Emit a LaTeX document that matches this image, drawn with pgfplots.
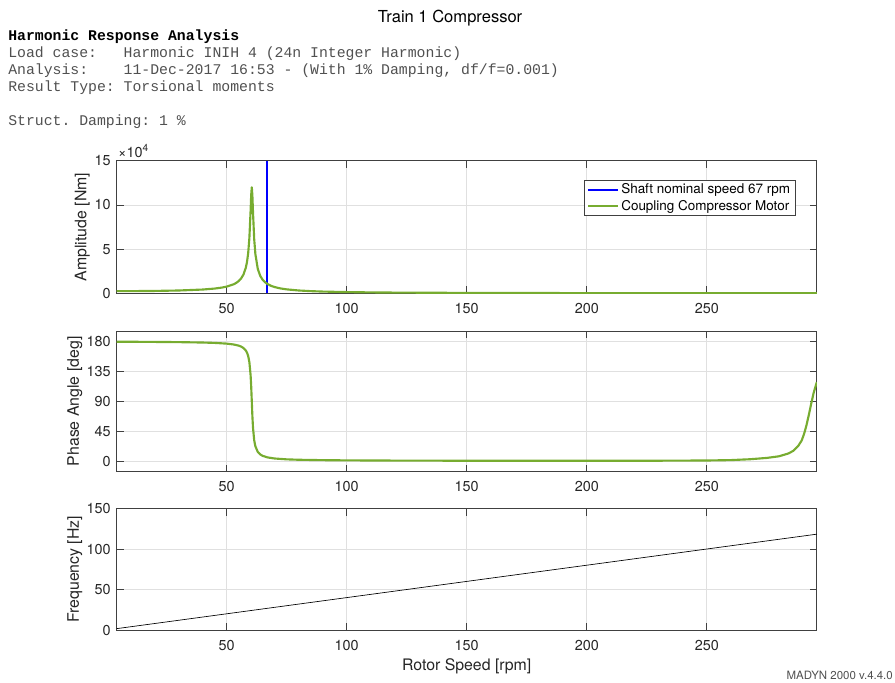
\documentclass[border=0pt]{standalone}
\usepackage{fontspec}
\setmainfont{TeX Gyre Heros}
\setmonofont{Liberation Mono}
\usepackage{pgfplots}
\pgfplotsset{compat=1.18}
\definecolor{axcol}{HTML}{404040}
\definecolor{labcol}{HTML}{262626}
\definecolor{gridcol}{HTML}{E0E0E0}
\definecolor{mgreen}{HTML}{77AC30}
\definecolor{mblue}{HTML}{0000FF}
\definecolor{hdrgray}{HTML}{505050}
\newcommand{\tickfont}{\fontsize{10.8}{13}\selectfont}
\newcommand{\labfont}{\fontsize{11.9}{14}\selectfont}
\newcommand{\legfont}{\fontsize{10.1}{12}\selectfont}
\newcommand{\hdrfont}{\ttfamily\fontsize{11.1}{13}\selectfont}

\pgfplotsset{
 madyn/.style={
  scale only axis,width=525.15pt,anchor=south west,
  xmin=4.2,xmax=295.8,xtick={50,100,150,200,250},
  grid=major,major grid style={draw=gridcol,line width=0.5pt},
  axis line style={draw=axcol,line width=0.6pt},
  tick style={draw=axcol,line width=0.6pt},
  tick align=inside,major tick length=5.25pt,
  ticklabel style={font=\tickfont,text=labcol},
  /pgf/number format/assume math mode=true,
  xticklabel style={yshift=-4pt},
  yticklabel style={xshift=-1pt},
  label style={font=\labfont,text=labcol},
  scaled ticks=false,
 }
}

\begin{document}
\begin{tikzpicture}
\useasboundingbox (0,0) rectangle (671.25pt,-511.5pt);

% header
\node[anchor=base,inner sep=0,font=\fontsize{12.4}{15}\selectfont] at (337.5pt,-16.9pt) {Train 1 Compressor};
\node[anchor=base west,inner sep=0,font=\hdrfont\bfseries] at (6pt,-30pt) {Harmonic Response Analysis};
\node[anchor=base west,inner sep=0,font=\hdrfont,text=hdrgray] at (6pt,-42.75pt) {Load case:~~~Harmonic INIH 4 (24n Integer Harmonic)};
\node[anchor=base west,inner sep=0,font=\hdrfont,text=hdrgray] at (6pt,-55.5pt) {Analysis:~~~~11-Dec-2017 16:53 - (With 1\% Damping, df/f=0.001)};
\node[anchor=base west,inner sep=0,font=\hdrfont,text=hdrgray] at (6pt,-68.25pt) {Result Type:~Torsional moments};
\node[anchor=base west,inner sep=0,font=\hdrfont,text=hdrgray] at (6pt,-93.75pt) {Struct.~Damping:~1~\%};

% amplitude
\begin{axis}[madyn,name=amp,at={(87.45pt,-219.98pt)},height=99.375pt,
 ymin=0,ymax=150000,ytick={0,50000,100000,150000},yticklabels={0,5,10,15},
 ylabel={Amplitude [Nm]},ylabel style={at={(axis description cs:-0.043,0.5)},anchor=base},
 legend style={at={(axis description cs:0.9693,0.855)},anchor=north east,draw=axcol,line width=0.5pt,
  fill=white,font=\legfont,inner xsep=2pt,inner ysep=1pt,nodes={inner sep=1.6pt},row sep=0pt},
 legend cell align=left,
 legend image code/.code={\draw[#1] (0pt,0pt) -- (22.5pt,0pt);}]
\addplot[draw=mblue,line width=1.4pt] coordinates {(67,0)(67,150000)};
\addlegendentry{Shaft nominal speed 67 rpm}
\addplot[draw=mgreen,line width=1.6pt,line join=round] coordinates {
(4.2,2412)(10,2467)(20,2694)(30,3182)(40,4264)(45,5369)(48,6471)(50,7561)(53,10290)(54,11758)
(55,13754)(56,16618)(57,21067)(58,28856)(58.5,35377)(59,45532)(59.5,62778)(60,93132)(60.25,111317)
(60.5,120000)(60.75,110497)(61,91918)(61.5,61475)(62,44272)(63,27621)(64,19848)(65,15406)(66,12544)
(67,10550)(68.5,8485)(70,7071)(72.5,5504)(75,4471)(80,3206)(85,2464)(90,1979)(100,1386)(110,1041)
(120,818)(150,466)(175,326)(200,242)(250,149)(295.8,105)};
\addlegendentry{Coupling Compressor Motor}
\end{axis}
\node[anchor=base west,inner sep=0,font=\tickfont,text=labcol] at ([xshift=1pt,yshift=2.8pt]amp.north west) {×10\textsuperscript{4}};

% phase
\begin{axis}[madyn,at={(87.45pt,-353.78pt)},height=105.525pt,
 ymin=-16,ymax=196,ytick={0,45,90,135,180},
 ylabel={Phase Angle [deg]},ylabel style={at={(axis description cs:-0.054,0.5)},anchor=base}]
\addplot[draw=mgreen,line width=1.6pt,line join=round] coordinates {
(4.2,179.92)(10,179.8)(20,179.57)(30,179.25)(40,178.65)(45,178.09)(50,177.01)(53,175.69)(55,174.02)
(56,172.64)(57,170.48)(58,166.67)(58.5,163.44)(59,158.29)(59.5,149.03)(60,129.67)(60.25,112.5)(60.5,90)
(60.75,67.6)(61,50.56)(61.5,31.38)(62,22.22)(63,13.87)(64,10.08)(65,7.93)(67,5.59)(70,3.91)(75,2.64)
(80,2.02)(90,1.41)(100,1.09)(120,0.77)(150,0.55)(200,0.45)(230,0.6)(250,0.9)(260,1.5)(268,2.8)(275,4.8)
(280,7.2)(284,11.5)(286,15.5)(288,22.5)(289.5,31)(290.5,41)(291.5,54)(292.5,70)(293.5,87)(294.5,103)(295.8,119)};
\end{axis}

% frequency
\begin{axis}[madyn,at={(87.45pt,-472.5pt)},height=91.125pt,
 ymin=0,ymax=150,ytick={0,50,100,150},
 ylabel={Frequency [Hz]},ylabel style={at={(axis description cs:-0.054,0.5)},anchor=base},
 xlabel={Rotor Speed [rpm]},xlabel style={at={(axis description cs:0.5,0)},anchor=base,yshift=-30pt}]
\addplot[draw=black,line width=0.5pt] coordinates {(4.2,1.68)(295.8,118.32)};
\end{axis}

\node[anchor=base east,inner sep=0,font=\fontsize{8.6}{10}\selectfont,text=hdrgray] at (669.75pt,-509.4pt) {MADYN 2000 v.4.4.0};
\end{tikzpicture}
\end{document}
